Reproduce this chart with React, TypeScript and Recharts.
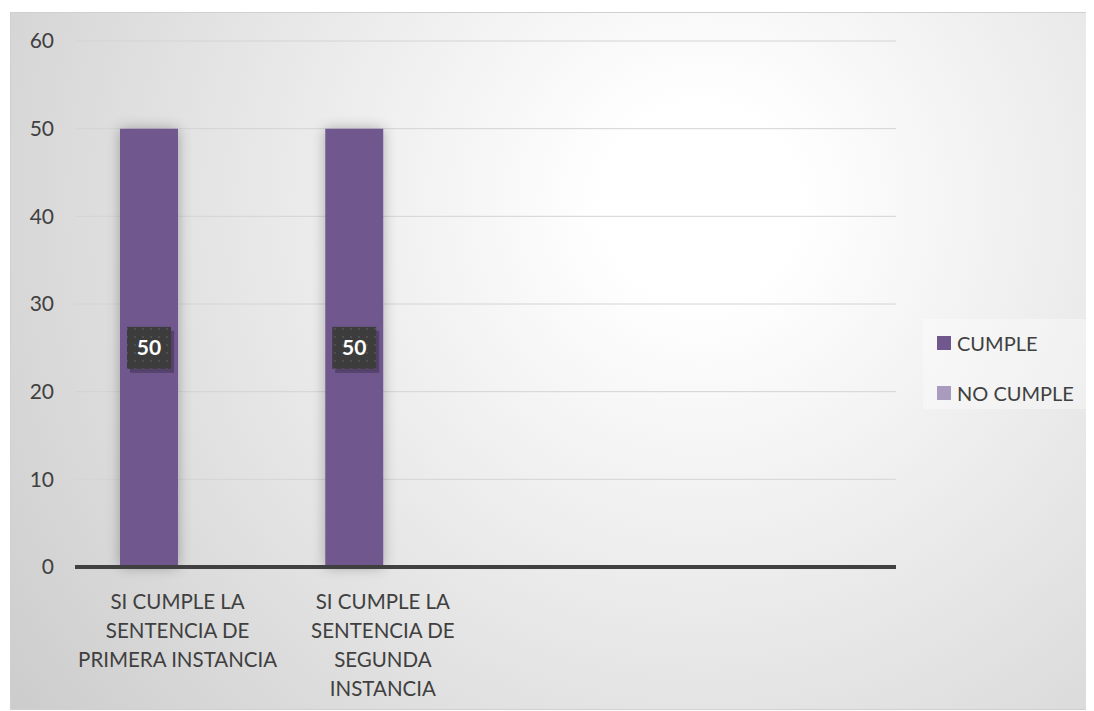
import { BarChart, Bar, XAxis, YAxis, CartesianGrid, LabelList } from 'recharts'

const categories = [
  'SI CUMPLE LA\nSENTENCIA DE\nPRIMERA INSTANCIA',
  'SI CUMPLE LA\nSENTENCIA DE\nSEGUNDA\nINSTANCIA',
  '',
  '',
]
const cumple = [50, 50, null, null]
const noCumple = [0, 0, null, null]
const yTicks = [0, 10, 20, 30, 40, 50, 60]

const seriesNames = { cumple: 'CUMPLE', noCumple: 'NO CUMPLE' }
const colors = { cumple: '#70588f', noCumple: '#a99bbd' }

const data = categories.map((name, i) => ({
  name,
  cumple: cumple[i],
  noCumple: noCumple[i],
}))

const FONT = 'Lato, "Open Sans", sans-serif'

function CategoryTick({ x, y, payload }: any) {
  const lines = String(payload.value || '').split('\n')
  return (
    <text x={x} y={y} textAnchor='middle' fill='#404040' fontSize={20.5} fontFamily={FONT}>
      {lines.map((l, i) => (
        <tspan key={i} x={x} dy={i === 0 ? 40 : 29}>
          {l}
        </tspan>
      ))}
    </text>
  )
}

function ValueBadge({ x, y, width, height, value }: any) {
  if (!value) return null
  const cx = x + width / 2
  const cy = y + height / 2
  return (
    <g>
      <rect x={cx - 22} y={cy - 21} width={44} height={42} fill='#000' opacity={0.25} transform='translate(3,4)' />
      <rect x={cx - 22} y={cy - 21} width={44} height={42} fill='url(#dots)' />
      <text x={cx} y={cy + 7} textAnchor='middle' fill='#fff' fontSize={21} fontWeight='bold' fontFamily={FONT}>
        {value}
      </text>
    </g>
  )
}

function LegendBox() {
  const items = [
    { label: seriesNames.cumple, color: colors.cumple },
    { label: seriesNames.noCumple, color: colors.noCumple },
  ]
  return (
    <div
      style={{
        position: 'absolute',
        left: 912,
        top: 306,
        width: 164,
        height: 90,
        background: 'rgba(255,255,255,0.35)',
        fontFamily: FONT,
        fontSize: 20,
        color: '#404040',
        paddingTop: 11,
        boxSizing: 'border-box',
      }}
    >
      {items.map((it) => (
        <div key={it.label} style={{ display: 'flex', alignItems: 'center', height: 26, marginBottom: 24, paddingLeft: 14 }}>
          <span style={{ width: 14, height: 14, background: it.color, marginRight: 6, display: 'inline-block' }} />
          {it.label}
        </div>
      ))}
    </div>
  )
}

export default function App() {
  return (
    <div
      style={{
        position: 'relative',
        marginLeft: 2,
        marginTop: 4,
        width: 1082,
        height: 698,
        border: '1px solid #d0d0d0',
        boxSizing: 'border-box',
        background:
          'radial-gradient(circle 950px at 690px 190px, #ffffff 0%, #ffffff 10%, #ececec 40%, #c6c6c6 100%)',
      }}
    >
      <BarChart
        width={1080}
        height={696}
        data={data}
        margin={{ top: 28, right: 195, bottom: 112, left: 0 }}
        barGap={0}
        barSize={58}
      >
        <defs>
          <pattern id='dots' width={8} height={8} patternUnits='userSpaceOnUse'>
            <rect width={8} height={8} fill='#3c3c3c' />
            <circle cx={4} cy={4} r={1} fill='#555555' />
          </pattern>
          <filter id='barShadow' x='-50%' y='-10%' width='200%' height='120%'>
            <feGaussianBlur in='SourceAlpha' stdDeviation='7' />
            <feComponentTransfer>
              <feFuncA type='linear' slope='0.3' />
            </feComponentTransfer>
            <feMerge>
              <feMergeNode />
              <feMergeNode in='SourceGraphic' />
            </feMerge>
          </filter>
        </defs>
        <CartesianGrid vertical={false} stroke='#d4d4d4' strokeWidth={1} />
        <YAxis
          width={64}
          domain={[0, 60]}
          ticks={yTicks}
          tickLine={false}
          axisLine={false}
          tickSize={0}
          tickMargin={21}
          tick={{ fill: '#404040', fontSize: 21, fontFamily: FONT }}
        />
        <XAxis
          dataKey='name'
          height={30}
          interval={0}
          tickLine={false}
          tickSize={0}
          axisLine={{ stroke: '#404040', strokeWidth: 4 }}
          tick={<CategoryTick />}
        />
        <Bar dataKey='cumple' name={seriesNames.cumple} fill={colors.cumple} filter='url(#barShadow)' isAnimationActive={false}>
          <LabelList dataKey='cumple' content={<ValueBadge />} />
        </Bar>
        <Bar dataKey='noCumple' name={seriesNames.noCumple} fill={colors.noCumple} isAnimationActive={false} />
      </BarChart>
      <LegendBox />
    </div>
  )
}
